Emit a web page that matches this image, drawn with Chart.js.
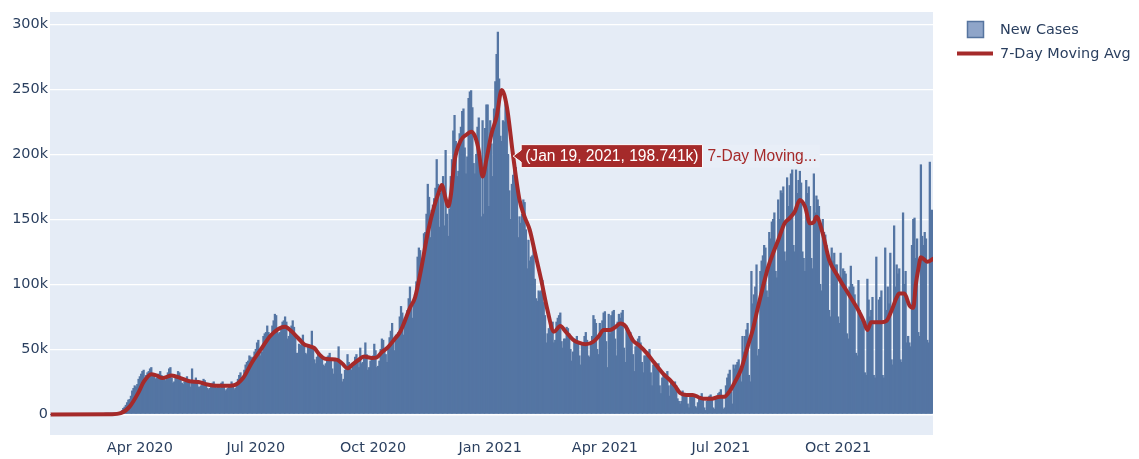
<!DOCTYPE html>
<html>
<head>
<meta charset="utf-8">
<title>US New Cases</title>
<script src="https://cdn.jsdelivr.net/npm/chart.js@4.4.1/dist/chart.umd.min.js"></script>
<style>
  html, body { margin: 0; padding: 0; background: #fff; }
  #wrap { width: 1139px; height: 459px; }
</style>
</head>
<body>
<div id="wrap"><canvas id="casesChart" width="1139" height="459"></canvas></div>
<script>
// daily new cases in thousands, first value is Jan 22 2020
var cases2020 = [
  0,0,0,0,0,0,0,0,0,0,                                               // Jan 22-31
  0,0,0,0,0,0,0,0,0,0,0,0,0,0,0,0,0,0,0,0,0,0,0,0,0,0,0,0,0,         // Feb
  0,0,0,0,0.1,0.1,0.1,0.1,0.2,0.3, 0.4,0.5,0.6,0.8,0.9,1.2,1.8,2.9,4.6,5.6, 7,9,11,11.5,14,18,20,22,21,23,27, // Mar
  29,31,33,34,27,30,32,33,35,36, 31,29,27,28,30,31,33,30,27,28, 26,29,32,35,36,28,24,25,28,30,          // Apr
  33,32,27,24,23,25,27,29,27,25, 21,35,24,26,28,25,21,21,22,25, 27,26,24,20,19,20,22,24,25,23, 20,      // May
  21,22,20,24,25,22,18,19,20,22, 23,25,22,19,20,24,27,30,32,26, 27,34,38,40,41,45,44,43,44,48,          // Jun
  50,55,57,50,45,48,60,62,63,68, 63,60,62,68,72,77,76,63,62,63, 67,71,72,75,71,58,60,65,68,72, 67,      // Jul
  59,47,47,54,53,58,61,54,47,46, 52,52,53,64,51,42,39,44,46,47, 45,44,38,37,39,44,45,47,43,35, 31,      // Aug
  42,40,43,52,41,31,25,27,34,35, 46,40,35,34,38,40,44,46,42,36, 51,39,40,44,55,46,34,36,41,44,          // Sep
  45,54,49,36,37,41,50,58,57,49, 46,40,51,59,64,70,57,49,61,59, 63,75,83,78,61,74,74,80,89,98, 83,      // Oct
  74,84,92,102,121,128,126,109,117,139, 140,154,177,167,136,157,161,166,174,196, 177,144,170,175,183,145,203,154,137,158, // Nov
  183,196,218,230,210,183,187,216,221,233, 235,205,185,198,243,248,249,236,193,185, 200,221,228,196,152,226,154,220,238,238, 160 // Dec
];
var cases2021 = [
  226,208,183,235,256,277,294,258,214,210, 226,225,239,238,200,172,150,177,184,193, 190,175,136,152,147,154,165,163,142,112, 134, // Jan 2 - Feb 1
  118,121,122,131,104,89,87,95,94,95, 103,86,76,55,62,66,71,70,71,55, 57,71,74,76,78,56,51,                  // Feb 2-28
  58,58,67,66,62,50,41,48,58,57, 60,55,45,38,55,54,60,63,57,45, 44,55,60,76,73,70,50,46,70,65, 72,           // Mar
  78,79,56,36,77,62,76,79,80,58, 45,71,77,74,78,80,51,40,68,64, 62,63,60,46,33,52,55,58,60,55,               // Apr
  40,32,45,45,45,48,50,32,22,38, 37,37,38,39,22,16,28,30,31,30, 33,22,14,24,24,24,25,22,12,10, 8,            // May
  10,18,16,14,16,8,5,14,14,15, 14,6,5,9,12,13,16,12,5,3, 10,11,14,15,13,5,4,12,14,16,                        // Jun
  17,19,14,4,5,22,28,31,34,17, 8,38,35,38,40,42,30,25,60,48, 60,65,70,30,25,110,85,92,98,115, 45,            // Jul
  50,110,118,122,130,128,95,90,140,135, 148,150,155,110,105,165,150,172,170,175, 125,118,182,160,176,185,188,130,125,188, 170, // Aug
  180,187,178,125,120,110,180,170,175,160, 120,112,185,155,168,165,160,100,95,150, 140,138,130,125,80,75,128,118,124,115,   // Sep
  115,75,70,124,105,112,110,108,62,58, 98,114,100,98,92,47,45,103,80,72, 75,68,32,30,104,88,75,80,90,30, 28,   // Oct
  121,72,88,90,95,30,28,128,80,98, 85,124,42,38,145,98,115,108,112,42, 40,155,100,110,55,60,55,52,130,150,     // Nov
  151,120,135,63,60,192,137,130,140,135, 57,55,194,157,157                                                      // Dec 1-15
];

// 7-day moving average, read at these day numbers (days since Jan 22 2020)
var avgDays = [0,48,55,62,69,73,79,83,88,95,102,109,116,123,130,137,144,151,158,165,172,179,184,189,194,199,203,207,211,215,220,225,229,233,237,241,246,252,256,260,265,270,274,278,282,286,291,296,301,305,307,310,312,314,317,322,326,330,333,336,339,342,346,350,354,358,363,368,372,376,380,385,390,395,400,404,410,415,420,426,430,434,439,443,447,451,457,462,468,472,476,481,486,490,494,499,504,509,514,519,524,529,533,537,542,547,551,555,559,563,567,571,576,580,584,588,592,596,599,601,606,611,618,626,634,638,641,644,652,656,660,664,666,670,674,677,679,681,683,688,693];
var avgValues = [0,0.2,1,6,17,25,31,30,28,30,28,25.5,25,23,22,22,22.5,28,40,50,60,66,67.5,64,59,54,52.5,51,46,43,42.5,42,39,35.5,38.5,41.5,44.5,43.5,44,48,52,58,63,72,82,90,113,140,160,172,176.5,166,160,168,195,211,215,217.5,214,203,183,196,216,229,249.6,237,198.741,165,152,142,125,103.5,80,63.7,68,64,57.5,55,54,56,60,65,65,67,70,68,57,53,47,42,37,31,26.5,22,16.5,15,15,13,12,12,13.5,13.7,18,25,35,52,65,82,98,113,124,134,147,151,156,165,160,147,148,152,139,119,106,93,80,72,65,71,71,72,80,90,93,93,84,82,100,112,121,117.5,120];

var tickDays = [70, 161, 253, 345, 435, 526, 618];
var tickLabels = ['Apr 2020', 'Jul 2020', 'Oct 2020', 'Jan 2021', 'Apr 2021', 'Jul 2021', 'Oct 2021'];
var yTicks = [0, 50, 100, 150, 200, 250, 300];
var hoverDay = 363;

var monthNames = ['Jan','Feb','Mar','Apr','May','Jun','Jul','Aug','Sep','Oct','Nov','Dec'];
var allCases = cases2020.concat(cases2021);
var barPoints = allCases.map(function (v, i) { return { x: i, y: v }; });
var avgPoints = avgDays.map(function (d, i) { return { x: d, y: avgValues[i] }; });

var barColor = '#5475a3';
var lineColor = '#a52a2a';
var textColor = '#2a3f5f';
var tickFont = { family: '"DejaVu Sans", Verdana, sans-serif', size: 14.4 };

function dayLabel(d) {
  var dt = new Date(2020, 0, 22 + d);
  return monthNames[dt.getMonth()] + ' ' + dt.getDate() + ', ' + dt.getFullYear();
}

// plot background
var plotBg = {
  id: 'plotBg',
  beforeDraw: function (chart) {
    var a = chart.chartArea, ctx = chart.ctx;
    ctx.save();
    ctx.fillStyle = '#e5ecf6';
    ctx.fillRect(a.left, a.top, a.right - a.left, a.bottom - a.top);
    ctx.restore();
  }
};

// plotly-like legend on the right
var sideLegend = {
  id: 'sideLegend',
  afterDraw: function (chart) {
    var ctx = chart.ctx;
    ctx.save();
    ctx.font = '14.4px "DejaVu Sans", Verdana, sans-serif';
    ctx.textBaseline = 'middle';
    ctx.fillStyle = '#8fa5c9';
    ctx.fillRect(967.5, 21.5, 16, 16);
    ctx.strokeStyle = '#56749f';
    ctx.lineWidth = 1.5;
    ctx.strokeRect(967.5, 21.5, 16, 16);
    ctx.fillStyle = textColor;
    ctx.fillText(chart.data.datasets[1].label, 1000, 30.5);
    ctx.strokeStyle = lineColor;
    ctx.lineWidth = 4;
    ctx.beginPath();
    ctx.moveTo(957, 53.5);
    ctx.lineTo(993, 53.5);
    ctx.stroke();
    ctx.fillStyle = textColor;
    ctx.fillText(chart.data.datasets[0].label, 1000, 54);
    ctx.restore();
  }
};

// the hover label shown on the moving average
var hoverBox = {
  id: 'hoverBox',
  afterDraw: function (chart) {
    var ctx = chart.ctx;
    var val = avgValues[avgDays.indexOf(hoverDay)];
    var px = chart.scales.x.getPixelForValue(hoverDay);
    var py = chart.scales.y.getPixelForValue(val);
    var txt = '(' + dayLabel(hoverDay) + ', ' + val + 'k)';
    var name = chart.data.datasets[0].label;
    if (name.length > 15) name = name.slice(0, 12) + '...';
    ctx.save();
    ctx.font = '15.6px "Liberation Sans", Arial, sans-serif';
    ctx.textBaseline = 'middle';
    var tw = ctx.measureText(txt).width;
    var nw = ctx.measureText(name).width;
    var left = px + 8, right = left + tw + 8;
    var top = py - 11.5, bottom = py + 11.5;
    ctx.fillStyle = '#e8eef7';
    ctx.fillRect(right, top, nw + 8, bottom - top);
    ctx.beginPath();
    ctx.moveTo(px, py);
    ctx.lineTo(left, py - 6);
    ctx.lineTo(left, top);
    ctx.lineTo(right, top);
    ctx.lineTo(right, bottom);
    ctx.lineTo(left, bottom);
    ctx.lineTo(left, py + 6);
    ctx.closePath();
    ctx.fillStyle = lineColor;
    ctx.fill();
    ctx.strokeStyle = '#ffffff';
    ctx.lineWidth = 1;
    ctx.stroke();
    ctx.fillStyle = '#ffffff';
    ctx.fillText(txt, left + 4, py + 0.5);
    ctx.fillStyle = lineColor;
    ctx.fillText(name, right + 5, py + 0.5);
    ctx.restore();
  }
};

var ctx = document.getElementById('casesChart').getContext('2d');
var chart = new Chart(ctx, {
  type: 'bar',
  data: {
    datasets: [{
      type: 'line',
      label: '7-Day Moving Avg',
      data: avgPoints,
      borderColor: lineColor,
      borderWidth: 4,
      pointRadius: 0,
      cubicInterpolationMode: 'monotone',
      order: 0
    }, {
      type: 'bar',
      label: 'New Cases',
      data: barPoints,
      backgroundColor: barColor,
      borderWidth: 0,
      inflateAmount: 0.5,
      barPercentage: 1,
      categoryPercentage: 1,
      order: 1
    }]
  },
  options: {
    responsive: false,
    animation: false,
    layout: { padding: { top: 12, right: 206, bottom: 0, left: 0 } },
    plugins: {
      legend: { display: false },
      tooltip: { enabled: false }
    },
    scales: {
      x: {
        type: 'linear',
        offset: false,
        min: -0.5,
        max: allCases.length - 0.5,
        grid: { display: false, offset: false },
        border: { display: false },
        afterBuildTicks: function (scale) {
          scale.ticks = tickDays.map(function (d) { return { value: d }; });
        },
        afterFit: function (scale) { scale.height = 24; },
        ticks: {
          color: textColor,
          font: tickFont,
          padding: -3,
          maxRotation: 0,
          autoSkip: false,
          callback: function (v) { return tickLabels[tickDays.indexOf(v)]; }
        }
      },
      y: {
        min: -15.8,
        max: 309.6,
        border: { display: false },
        grid: {
          drawTicks: false,
          color: '#ffffff',
          lineWidth: function (c) { return c.tick && c.tick.value === 0 ? 2.4 : 1.2; }
        },
        afterBuildTicks: function (scale) {
          scale.ticks = yTicks.map(function (v) { return { value: v }; });
        },
        afterFit: function (scale) { scale.width = 50; },
        ticks: {
          color: textColor,
          font: tickFont,
          padding: 2,
          callback: function (v) { return v === 0 ? '0' : v + 'k'; }
        }
      }
    }
  },
  plugins: [plotBg, sideLegend, hoverBox]
});
</script>
</body>
</html>
